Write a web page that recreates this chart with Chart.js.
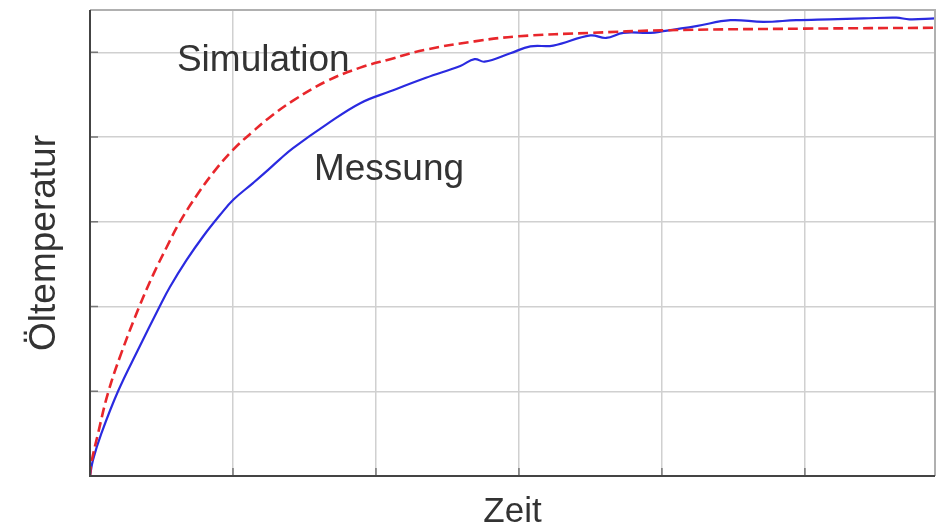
<!DOCTYPE html>
<html>
<head>
<meta charset="utf-8">
<script src="https://cdn.jsdelivr.net/npm/chart.js@4/dist/chart.umd.min.js"></script>
<style>
  html, body { margin: 0; padding: 0; background: #fff; }
  #wrap { width: 938px; height: 532px; }
</style>
</head>
<body>
<div id="wrap"><canvas id="myChart" width="938" height="532"></canvas></div>
<script>
// Simulation (red dashed)
const simTime = [0, 0.009, 0.056, 0.126, 0.219, 0.345, 0.443, 0.536, 0.629, 0.746, 0.862, 1.0, 1.142, 1.247, 1.42, 1.655, 1.89, 2.1, 2.343, 2.69, 3.0, 3.5, 4.0, 5.0, 5.91];
const simTemp = [0, 0.15, 0.50, 0.98, 1.45, 2.0, 2.38, 2.70, 3.0, 3.31, 3.58, 3.85, 4.07, 4.22, 4.43, 4.66, 4.82, 4.92, 5.03, 5.13, 5.19, 5.23, 5.26, 5.28, 5.29];

// Messung (blue)
const measTime = [0, 0.021, 0.079, 0.196, 0.336, 0.487, 0.559, 0.676, 0.792, 0.909, 1.002, 1.142, 1.224, 1.329, 1.42, 1.655, 1.89, 2.10, 2.35, 2.59, 2.69, 2.76, 2.94, 3.08, 3.24, 3.50, 3.61, 3.73, 3.92, 4.01, 4.24, 4.48, 4.71, 4.94, 5.17, 5.41, 5.64, 5.73, 5.91];
const measTemp = [0, 0.19, 0.50, 1.0, 1.49, 2.0, 2.23, 2.55, 2.83, 3.08, 3.26, 3.46, 3.58, 3.74, 3.87, 4.15, 4.40, 4.54, 4.70, 4.84, 4.92, 4.89, 4.99, 5.07, 5.08, 5.20, 5.17, 5.23, 5.23, 5.25, 5.31, 5.38, 5.36, 5.38, 5.39, 5.40, 5.41, 5.39, 5.40];

// axis ranges and grid steps
const xMax = 5.91;
const yMax = 5.5;
const gridStep = 1;

// labels inside the plot, at data positions
const curveLabels = [
    { text: 'Simulation', x: 0.608, y: 4.78, size: 37 },
    { text: 'Messung', x: 1.566, y: 3.49, size: 37 }
];

const fontFamily = '"Liberation Sans", Arial, Helvetica, sans-serif';
const textColor = '#333';

function toPoints(xs, ys) {
    return xs.map((x, i) => ({ x: x, y: ys[i] }));
}

// frame, inner tick marks and curve labels
const framePlugin = {
    id: 'frame',
    afterDraw(chart) {
        const ctx = chart.ctx;
        const area = chart.chartArea;
        const xs = chart.scales.x;
        const ys = chart.scales.y;
        ctx.save();
        // top / right border (light)
        ctx.strokeStyle = '#b0b0b0';
        ctx.lineWidth = 2;
        ctx.beginPath();
        ctx.moveTo(area.left, area.top);
        ctx.lineTo(area.right, area.top);
        ctx.lineTo(area.right, area.bottom);
        ctx.stroke();
        // inner ticks
        ctx.strokeStyle = '#777';
        ctx.lineWidth = 1.5;
        ctx.beginPath();
        for (let v = gridStep; v < xMax; v += gridStep) {
            const px = xs.getPixelForValue(v);
            ctx.moveTo(px, area.bottom);
            ctx.lineTo(px, area.bottom - 8);
        }
        for (let v = gridStep; v < yMax; v += gridStep) {
            const py = ys.getPixelForValue(v);
            ctx.moveTo(area.left, py);
            ctx.lineTo(area.left + 8, py);
        }
        ctx.stroke();
        // axis lines (dark)
        ctx.strokeStyle = '#444';
        ctx.lineWidth = 2;
        ctx.beginPath();
        ctx.moveTo(area.left, area.top);
        ctx.lineTo(area.left, area.bottom);
        ctx.lineTo(area.right, area.bottom);
        ctx.stroke();
        // curve labels
        ctx.fillStyle = textColor;
        ctx.textBaseline = 'alphabetic';
        ctx.textAlign = 'left';
        curveLabels.forEach(l => {
            ctx.font = l.size + 'px ' + fontFamily;
            ctx.fillText(l.text, xs.getPixelForValue(l.x), ys.getPixelForValue(l.y));
        });
        ctx.restore();
    }
};

const ctx = document.getElementById('myChart').getContext('2d');
new Chart(ctx, {
    type: 'line',
    data: {
        datasets: [
            {
                label: 'Simulation',
                data: toPoints(simTime, simTemp),
                borderColor: '#e8262b',
                borderWidth: 2.6,
                borderDash: [10, 5],
                pointRadius: 0,
                tension: 0.4,
                fill: false,
                order: 0
            },
            {
                label: 'Messung',
                data: toPoints(measTime, measTemp),
                borderColor: '#2a2ae0',
                borderWidth: 2.2,
                pointRadius: 0,
                tension: 0.4,
                fill: false,
                order: 1
            }
        ]
    },
    options: {
        responsive: false,
        animation: false,
        events: [],
        layout: { padding: { left: 0, right: 3, top: 10, bottom: 0 } },
        plugins: {
            legend: { display: false },
            tooltip: { enabled: false }
        },
        scales: {
            x: {
                type: 'linear',
                min: 0,
                max: xMax,
                ticks: { display: false, stepSize: gridStep },
                grid: { color: '#d0d0d0', lineWidth: 1.5, drawTicks: false },
                border: { display: false },
                title: {
                    display: true,
                    text: 'Zeit',
                    color: textColor,
                    font: { family: fontFamily, size: 35, lineHeight: 1.1 },
                    padding: { top: 17.5, bottom: 0 }
                }
            },
            y: {
                type: 'linear',
                min: 0,
                max: yMax,
                ticks: { display: false, stepSize: gridStep },
                grid: { color: '#d0d0d0', lineWidth: 1.5, drawTicks: false },
                border: { display: false },
                title: {
                    display: true,
                    text: 'Öltemperatur',
                    color: textColor,
                    font: { family: fontFamily, size: 37, lineHeight: 1.2 },
                    padding: { top: 23, bottom: 22.6 }
                }
            }
        }
    },
    plugins: [framePlugin]
});
</script>
</body>
</html>
